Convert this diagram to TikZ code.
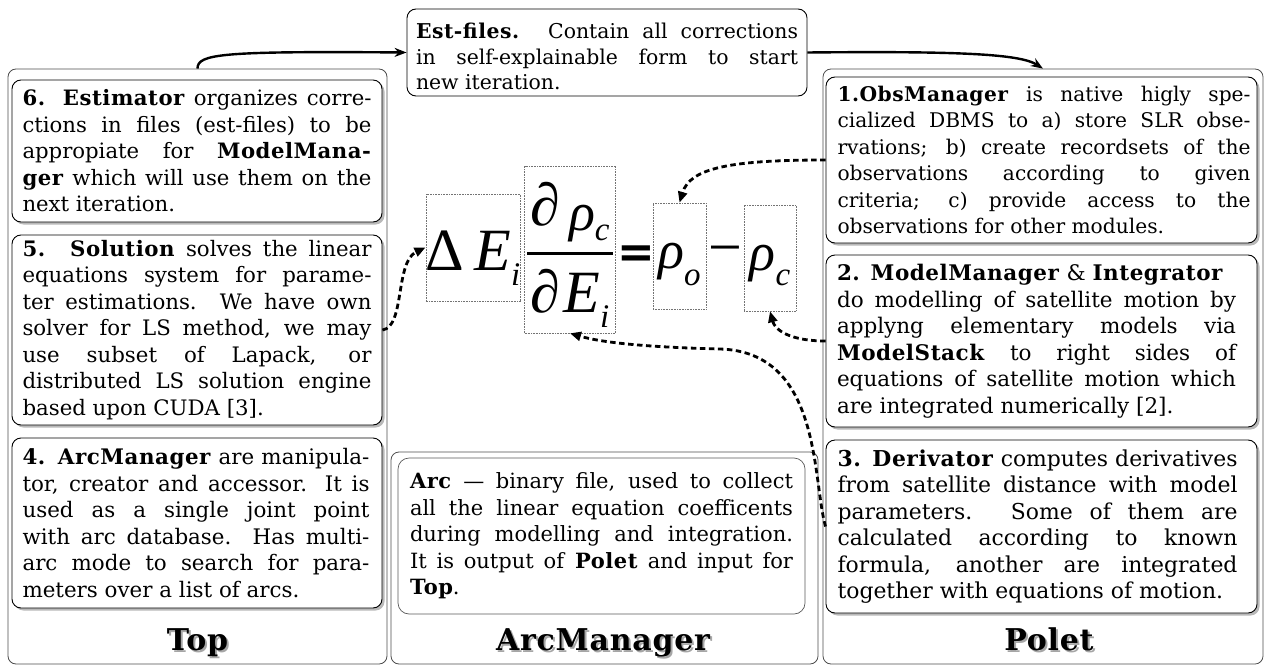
\documentclass[tikz,border=0pt]{standalone}
\usepackage{fontspec}
\setmainfont{DejaVu Serif}[BoldFeatures={LetterSpace=2.5}]
\newfontfamily\eqf{Liberation Serif}
\newfontfamily\symf{DejaVu Sans}
\usetikzlibrary{arrows.meta,shadows}
\newdimen\jw
\newcommand\jl[1]{\hbox to\jw{#1}}
\newcommand\nl[1]{\hbox{#1}}
\newcommand\eqbig{\eqf\fontsize{60}{60}\selectfont}
\newcommand\eqrho{\fontsize{54}{54}\selectfont}
\newcommand\eqsub[2][-15pt]{\raisebox{#1}{\fontsize{33}{33}\selectfont #2}}
\newcommand\fs[1]{\fontsize{#1}{26.5}\selectfont}
\tikzset{
  panel/.style={draw=black!70, line width=0.8pt, rounded corners=8pt},
  tbox/.style={draw=black, line width=0.9pt, rounded corners=9pt, fill=white,
    inner sep=0pt, font=\fs{20}},
  shbox/.style={tbox, drop shadow={shadow xshift=2.5pt, shadow yshift=-2.5pt, fill=black!55}},
  title/.style={font=\fontsize{30}{30}\selectfont\bfseries, anchor=base, inner sep=0pt},
  titlesh/.style={title, text=black!35},
  eqbox/.style={draw=black!55, densely dotted, line width=0.6pt, inner sep=0pt, anchor=base},
  solidarrow/.style={line width=2.4pt, -{Stealth[length=12pt,width=9pt]}},
  dasharrow/.style={line width=2.8pt, dash pattern=on 5.5pt off 3.5pt, -{Triangle[length=11pt,width=9pt]}},
}
\begin{document}
\begin{tikzpicture}[x=1pt,y=-1pt]
\useasboundingbox (0,0) rectangle (1265,666);
% panels
\node[panel, minimum width=379pt, minimum height=595pt] (topP) at (197.5,366.5) {};
\node[panel, minimum width=427pt, minimum height=212pt] (arcP) at (604.5,558) {};
\node[panel, minimum width=440pt, minimum height=595pt] (poletP) at (1043,366.5) {};
% titles
\node[titlesh] (topTs) at (199.5,652) {Top};
\node[title] (topT) at (197.5,650) {Top};
\node[titlesh] (arcTs) at (605,652) {ArcManager};
\node[title] (arcT) at (603,650) {ArcManager};
\node[titlesh] (poletTs) at (1051,652) {Polet};
\node[title] (poletT) at (1049,650) {Polet};
% left boxes
\node[shbox, font=\fs{21.2}, minimum width=370pt, minimum height=142pt] (box6) at (197,151) {\vbox{\jw=349pt
\jl{\textbf{6. Estimator} organizes corre-}
\jl{ctions in files (est-files) to be}
\jl{appropiate for \textbf{ModelMana-}}
\jl{\textbf{ger} which will use them on the}
\nl{next iteration.}}};
\node[shbox, font=\fs{21.3}, minimum width=370pt, minimum height=190pt] (box5) at (197,330) {\vbox{\jw=349pt
\jl{\textbf{5. Solution} solves the linear}
\jl{equations system for parame-}
\jl{ter estimations. We have own}
\jl{solver for LS method, we may}
\jl{use subset of Lapack, or}
\jl{distributed LS solution engine}
\nl{based upon CUDA [3].}}};
\node[shbox, font=\fs{21.4}, minimum width=370pt, minimum height=170pt] (box4) at (197,523) {\vbox{\jw=347pt
\jl{\textbf{4. ArcManager} are manipula-}
\jl{tor, creator and accessor. It is}
\jl{used as a single joint point}
\jl{with arc database. Has multi-}
\jl{arc mode to search for para-}
\nl{meters over a list of arcs.}}\kern2pt};
% right boxes
\node[shbox, font=\fs{20.2}, minimum width=431pt, minimum height=166pt] (box1) at (1041.5,160) {\vbox{\jw=413pt
\jl{\textbf{1.ObsManager} is native higly spe-}
\jl{cialized DBMS to a) store SLR obse-}
\jl{rvations; b) create recordsets of the}
\jl{observations according to given}
\jl{criteria; c) provide access to the}
\nl{observations for other modules.}}\kern-5pt};
\node[shbox, font=\fs{21.5}, minimum width=431pt, minimum height=172pt] (box2) at (1041.5,341) {\vbox{\jw=399pt
\nl{\textbf{2. ModelManager} \& \textbf{Integrator}}
\jl{do modelling of satellite motion by}
\jl{applyng elementary models via}
\jl{\textbf{ModelStack} to right sides of}
\jl{equations of satellite motion which}
\nl{are integrated numerically [2].}}\kern10pt};
\node[shbox, font=\fs{21.9}, minimum width=431pt, minimum height=173pt] (box3) at (1041.5,526.5) {\vbox{\jw=400pt
\jl{\textbf{3. Derivator} computes derivatives}
\jl{from satellite distance with model}
\jl{parameters. Some of them are}
\jl{calculated according to known}
\jl{formula, another are integrated}
\nl{together with equations of motion.}}\kern8pt};
% middle boxes
\node[tbox, font={\fontsize{20.4}{25.5}\selectfont}, minimum width=400pt, minimum height=87pt] (est) at (607,52.5) {\vbox{\kern8pt\jw=382pt
\jl{\textbf{\addfontfeature{LetterSpace=8}Est-files.} Contain all corrections}
\jl{in self-explainable form to start}
\nl{new iteration.}}};
\node[tbox, font=\fs{21}, draw=black!65, line width=0.7pt, rounded corners=11pt, minimum width=407pt, minimum height=156pt] (arcbox) at (601.5,536) {\vbox{\jw=383pt
\jl{\textbf{Arc} — binary file, used to collect}
\jl{all the linear equation coefficents}
\jl{during modelling and integration.}
\jl{It is output of \textbf{Polet} and input for}
\nl{\textbf{Top}.}}};
% equation
\node[eqbox, minimum width=92pt, text height=76pt, text depth=31pt] (dE) at (473,270)
  {\eqbig Δ\hspace{10pt}\itshape E\eqsub{i}};
\node[eqbox, minimum width=91pt, text height=146pt, text depth=21pt] (frac) at (570,312)
  {\eqbig\itshape\vbox{\hbox to 86pt{\hss\smash{∂\hspace{9pt}\raisebox{-5pt}{\eqrho ρ}\eqsub{c}}\hss}\kern27pt\hrule height 3pt\kern57pt\hbox to 86pt{\hss\smash{∂\hspace{3pt}E\eqsub{i}}\hss}}};
\node[anchor=base, inner sep=0pt] (eq) at (636,267) {\symf\bfseries\fontsize{45}{45}\selectfont =};
\node[eqbox, minimum width=53pt, text height=65pt, text depth=41pt] (rhoo) at (679.5,268)
  {\eqf\itshape\eqrho ρ\eqsub[-17pt]{o}};
\node[anchor=base, inner sep=0pt] (minus) at (725,267) {\eqbig −};
\node[eqbox, minimum width=52pt, text height=65pt, text depth=41pt] (rhoc) at (770,270)
  {\eqf\itshape\eqrho ρ\eqsub{c}};
% arrows
\draw[solidarrow] (topP.north) .. controls (197.5,54) and (220,51) .. (est.west);
\draw[solidarrow] (est.east) .. controls (960,51) and (1020,54) .. (poletP.north);
\draw[dasharrow] (box1.west) .. controls (730,160) and (690,168) .. (rhoo.north);
\draw[dasharrow] (box2.west) .. controls (790,341) and (775,330) .. (rhoc.south);
\draw[dasharrow] (box3.west) .. controls (812,480) and (822,352) .. (720,349) .. controls (640,347) and (600,342) .. (frac.south);
\draw[dasharrow] (box5.east) .. controls (405,327) and (395,262) .. (dE.west);
\end{tikzpicture}
\end{document}
